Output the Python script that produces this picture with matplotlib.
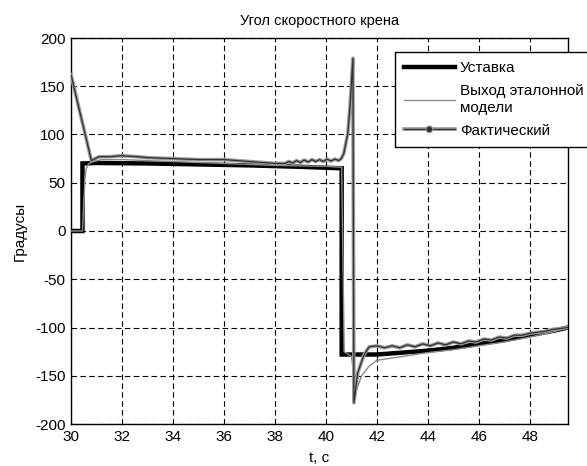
import matplotlib
matplotlib.use("Agg")
import matplotlib.pyplot as plt
from matplotlib.lines import Line2D
import matplotlib.patheffects as pe

plt.rcParams['font.family'] = ['Liberation Sans', 'DejaVu Sans']
plt.rcParams['axes.unicode_minus'] = False

title = "Угол скоростного крена"
xlabel = "t, c"
ylabel = "Градусы"
labels = ["Уставка", "Выход эталонной\nмодели", "Фактический"]
xticks = [30, 32, 34, 36, 38, 40, 42, 44, 46, 48]
yticks = [-200, -150, -100, -50, 0, 50, 100, 150, 200]

# Setpoint
t_set = [30, 30.45, 30.45, 31, 33, 35, 37, 39, 40.62, 40.62, 41.1, 42, 43, 44, 45, 46, 47, 48, 49, 49.5]
v_set = [0, 0, 70, 70.5, 70, 69, 68, 66.5, 65, -128, -128, -128, -126, -124, -121, -117, -113, -108, -103, -100]

# Reference model output
t_mod = [30, 30.45, 30.5, 30.55, 30.6, 30.7, 30.9, 31.2, 32, 33, 34, 35, 36, 37, 38, 39, 40, 40.62,
         40.72, 41.0, 41.2, 41.4, 41.7, 42, 43, 44, 45, 46, 47, 48, 49, 49.5]
v_mod = [0, 0, 30, 55, 65, 70, 72, 74, 74, 73, 72, 71, 70, 69, 68, 67.5, 67, 66,
         -125, -130, -165, -150, -140, -134, -130, -126, -123, -119, -115, -110, -104, -100]

# Actual
t_act = [30, 30.8, 31.1, 31.5, 32, 32.6, 33, 34, 35, 36, 37, 37.5, 38,
         38.4, 38.55, 38.7, 38.85, 39.0, 39.15, 39.3, 39.45, 39.6, 39.75, 39.9, 40.05, 40.2, 40.35, 40.5,
         40.6, 40.7, 40.86, 40.95, 41.06, 41.1, 41.25, 41.5, 41.7,
         42, 42.3, 42.6, 42.9, 43.2, 43.5, 43.8, 44.1, 44.4, 44.7, 45.0, 45.3, 45.6, 45.9,
         46.2, 46.5, 46.8, 47.1, 47.4, 47.7, 48.0, 48.3, 48.6, 48.9, 49.2, 49.5]
v_act = [162, 73, 77, 77, 78, 77, 76, 75, 74, 74, 72, 71, 70,
         70, 72, 70.5, 73, 71, 73.5, 71.5, 74, 72, 74, 72, 74.5, 72.5, 74.5, 73,
         75, 80, 101, 130, 179, -178, -147, -128, -120,
         -119, -121, -119, -121, -118, -120, -117, -119, -116, -118, -115, -117, -114, -115,
         -112, -113, -110, -111, -108, -108, -106, -105, -104, -102, -101, -100]

fig = plt.figure(figsize=(5.87, 4.66), dpi=100)
ax = fig.add_axes([71/587, 1-424/466, (568-71)/587, (424-38)/466])

ax.plot(t_set, v_set, color='black', lw=3.2, solid_joinstyle='miter', zorder=3)
ax.plot(t_mod, v_mod, color='#8a8a8a', lw=1.0, zorder=4)
act_fx = [pe.Stroke(linewidth=2.6, foreground='#9a9a9a'), pe.Normal()]
ax.plot(t_act, v_act, color='#303030', lw=0.9, zorder=5, path_effects=act_fx)

ax.set_xlim(30, 49.5)
ax.set_ylim(-200, 200)
ax.set_xticks(xticks)
ax.set_yticks(yticks)
ax.grid(True, color='black', linestyle=(0, (5, 3)), lw=0.8)
ax.tick_params(direction='in', length=0, labelsize=11, pad=4)
for s in ax.spines.values():
    s.set_linewidth(1.0)
    s.set_color('black')

ax.set_title(title, fontsize=10.5, pad=9)
ax.set_xlabel(xlabel, fontsize=11, labelpad=5)
ax.set_ylabel(ylabel, fontsize=11, labelpad=6)

handles = [
    Line2D([], [], color='black', lw=3.2),
    Line2D([], [], color='#8a8a8a', lw=1.0),
    Line2D([], [], color='#303030', lw=0.9, marker='o', ms=3, mfc='#303030', mec='#303030',
           path_effects=act_fx),
]
leg = fig.legend(handles, labels, loc='upper left', bbox_to_anchor=(395/587, 1-52/466),
                 fancybox=False, framealpha=1, edgecolor='black', fontsize=11,
                 handlelength=3.3, handletextpad=0.35, borderpad=0.6, labelspacing=0.6,
                 numpoints=1, borderaxespad=0)
leg.get_frame().set_linewidth(1.0)

fig.savefig('out.png', dpi=100)
